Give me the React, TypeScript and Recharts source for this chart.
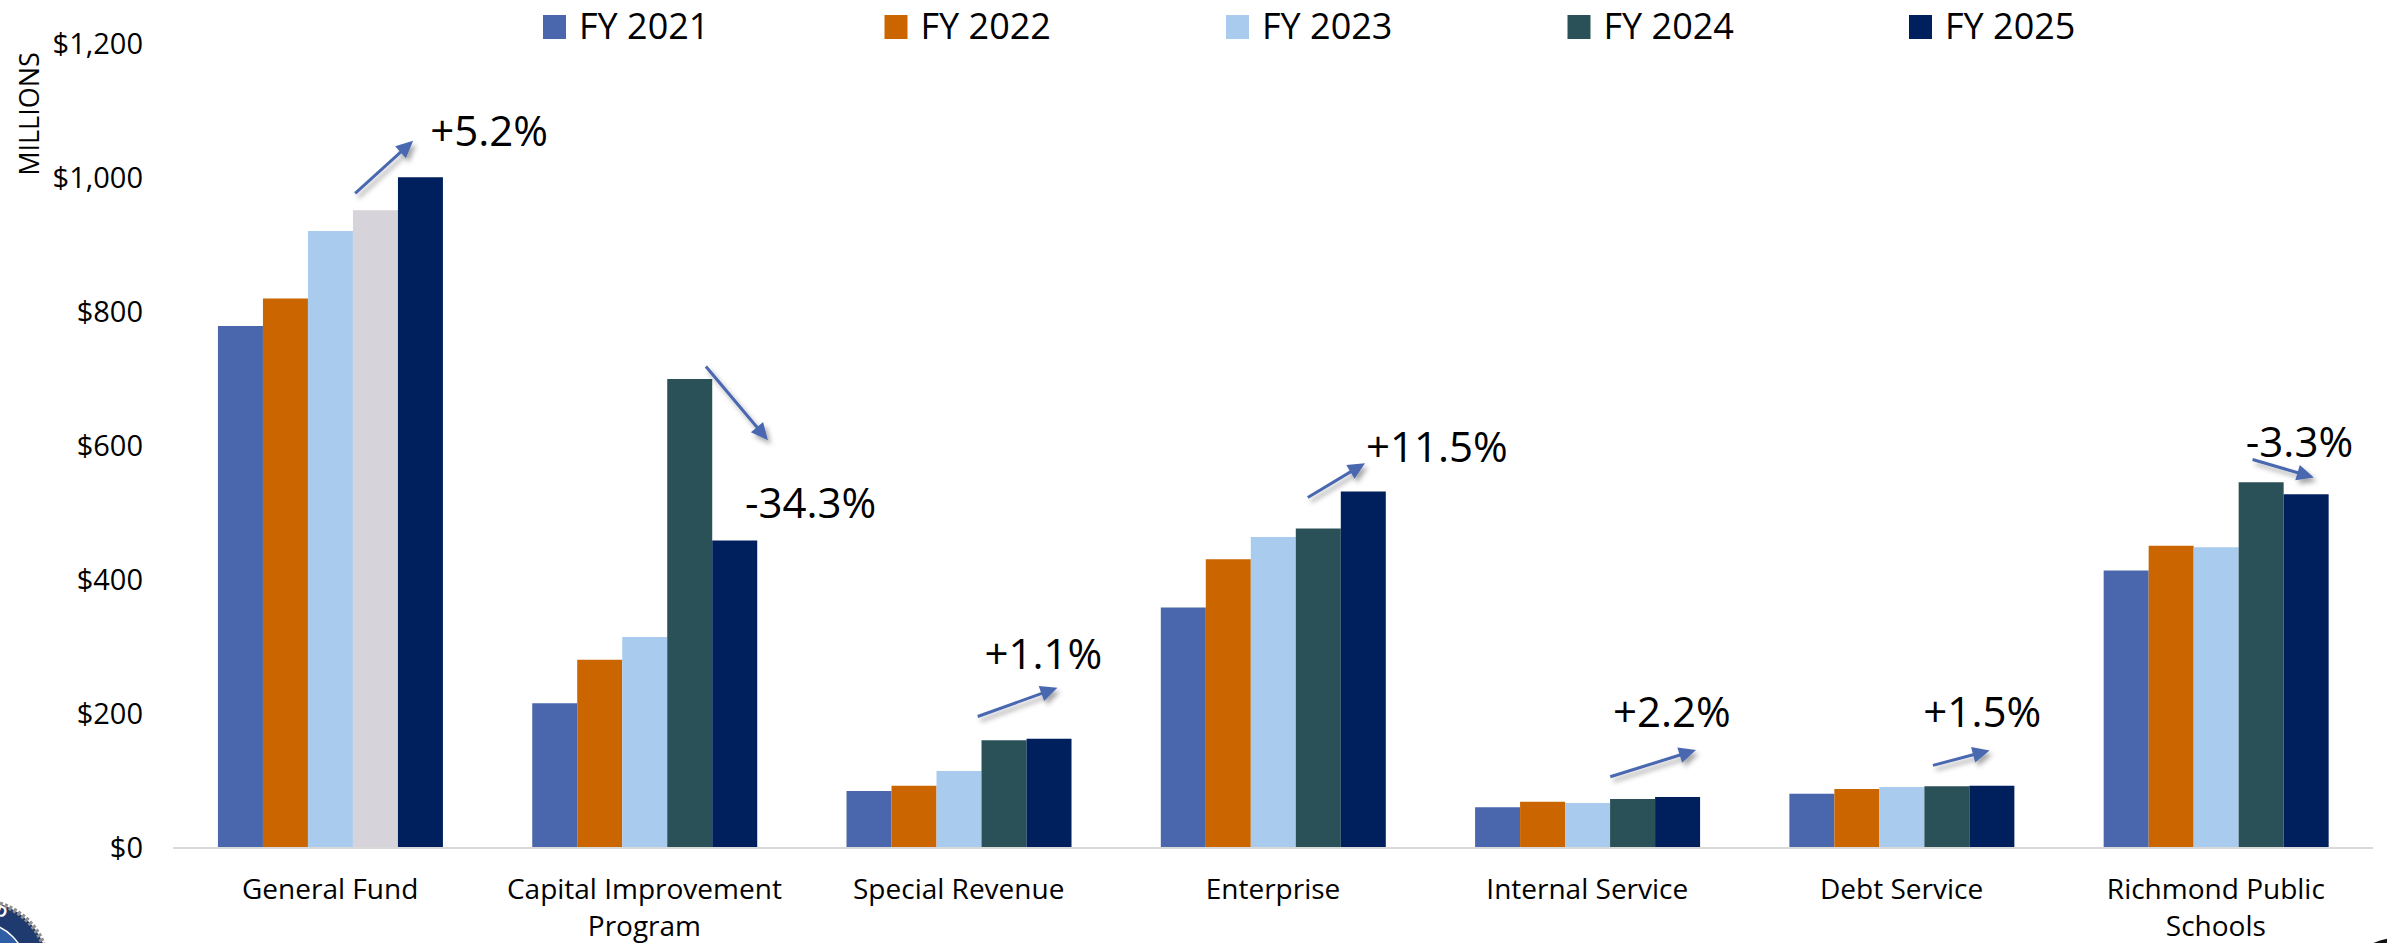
import React from 'react';
import { BarChart, Bar, XAxis, YAxis, Legend, Cell, ReferenceDot } from 'recharts';

const CATEGORIES = [
  'General Fund',
  'Capital Improvement Program',
  'Special Revenue',
  'Enterprise',
  'Internal Service',
  'Debt Service',
  'Richmond Public Schools',
];

// $ millions
const FY2021 = [779, 216, 85, 359, 61, 81, 414];
const FY2022 = [820, 281, 93, 431, 69, 88, 451];
const FY2023 = [921, 315, 115, 464, 67, 91, 449];
const FY2024 = [952, 700, 161, 477, 73, 92, 546];
const FY2025 = [1001, 459, 163, 532, 76, 93, 528];

const Y_TICKS = [0, 200, 400, 600, 800, 1000, 1200];
const CHANGE_LABELS = ['+5.2%', '-34.3%', '+1.1%', '+11.5%', '+2.2%', '+1.5%', '-3.3%'];

const SERIES = [
  { key: 'fy2021', name: 'FY 2021', values: FY2021, color: '#4A66AC' },
  { key: 'fy2022', name: 'FY 2022', values: FY2022, color: '#CA6500' },
  { key: 'fy2023', name: 'FY 2023', values: FY2023, color: '#A9CBEE' },
  { key: 'fy2024', name: 'FY 2024', values: FY2024, color: '#2B5158' },
  { key: 'fy2025', name: 'FY 2025', values: FY2025, color: '#00205D' },
];

// General Fund FY 2024 bar is drawn grey in the original
const HIGHLIGHT = { series: 'fy2024', index: 0, color: '#D7D3DA' };

// arrow + label placement, px relative to the top of each FY 2025 bar (band centre)
const ANNOTATION_OFFSETS = [
  { ax1: 25, ay1: 16, ax2: 83, ay2: -36.5, tx: 100, ty: -31.5 },
  { ax1: 61.5, ay1: -174, ax2: 123.5, ay2: -100.3, tx: 100.5, ty: -22 },
  { ax1: 19, ay1: -22.3, ax2: 98.7, ay2: -51, tx: 25.8, ty: -69.7 },
  { ax1: 34.8, ay1: 6, ax2: 92, ay2: -28.4, tx: 93, ty: -29.5 },
  { ax1: 23, ay1: -20.3, ax2: 108.7, ay2: -47, tx: 25.6, ty: -70.3 },
  { ax1: 31.4, ay1: -20.3, ax2: 88, ay2: -35.3, tx: 21.8, ty: -58.6 },
  { ax1: 36.7, ay1: -34.8, ax2: 98, ay2: -16.8, tx: 30, ty: -36.8 },
];

const data = CATEGORIES.map((name, i) => {
  const row: Record<string, string | number> = { name };
  SERIES.forEach((s) => {
    row[s.key] = s.values[i];
  });
  return row;
});

const FONT = "'Open Sans', sans-serif";
const W = 2387;
const H = 943;

function wrapLabel(text: string, max: number) {
  const words = text.split(' ');
  const lines: string[] = [];
  let cur = '';
  words.forEach((w) => {
    const next = cur ? cur + ' ' + w : w;
    if (next.length > max && cur) {
      lines.push(cur);
      cur = w;
    } else {
      cur = next;
    }
  });
  if (cur) lines.push(cur);
  return lines;
}

function CategoryTick({ x, y, payload }: any) {
  const lines = wrapLabel(String(payload.value), 19);
  return (
    <text textAnchor="middle" fontSize={28} fontFamily={FONT} fill="#000">
      {lines.map((l, i) => (
        <tspan key={i} x={x} y={y + 51 + i * 37}>
          {l}
        </tspan>
      ))}
    </text>
  );
}

function renderLegend() {
  return (
    <svg width={W} height={60} style={{ display: 'block', overflow: 'visible' }}>
      {SERIES.map((s, i) => {
        const x = 543 + i * 341.5;
        return (
          <g key={s.key}>
            <rect x={x} y={15} width={23} height={24} fill={s.color} />
            <text x={x + 36} y={39} fontSize={36} fontFamily={FONT} fill="#000">
              {s.name}
            </text>
          </g>
        );
      })}
    </svg>
  );
}

function ChangeArrow(props: any) {
  const { cx, cy, label, o, id } = props;
  const x1 = cx + o.ax1;
  const y1 = cy + o.ay1;
  const x2 = cx + o.ax2;
  const y2 = cy + o.ay2;
  const len = Math.hypot(x2 - x1, y2 - y1);
  const ux = (x2 - x1) / len;
  const uy = (y2 - y1) / len;
  const head = 17;
  const half = 8;
  const bx = x2 - ux * head;
  const by = y2 - uy * head;
  const pts = `${x2},${y2} ${bx - uy * half},${by + ux * half} ${bx + uy * half},${by - ux * half}`;
  return (
    <g>
      <defs>
        <filter id={`shadow-${id}`} x="-50%" y="-50%" width="200%" height="200%">
          <feDropShadow dx="3" dy="4" stdDeviation="2.5" floodColor="#000" floodOpacity="0.35" />
        </filter>
      </defs>
      <g filter={`url(#shadow-${id})`}>
        <line x1={x1} y1={y1} x2={bx + ux * 2} y2={by + uy * 2} stroke="#4A67B0" strokeWidth={3} />
        <polygon points={pts} fill="#4A67B0" />
      </g>
      <text x={cx + o.tx} y={cy + o.ty} fontSize={42} fontFamily={FONT} fill="#000">
        {label}
      </text>
    </g>
  );
}

function MillionsLabel() {
  return (
    <text
      x={39}
      y={114}
      transform="rotate(-90, 39, 114)"
      textAnchor="middle"
      fontSize={27}
      fontFamily={FONT}
      fill="#000"
    >
      MILLIONS
    </text>
  );
}

function Seals() {
  return (
    <svg
      width={W}
      height={H}
      style={{ position: 'absolute', left: 0, top: 0, pointerEvents: 'none' }}
    >
      <defs>
        <path id="sealArc" d="M -76 969 A 56 56 0 0 1 36 969" />
      </defs>
      <circle cx={-20} cy={969} r={68} fill="#1E3A6E" stroke="#8F8F8F" strokeWidth={5} strokeDasharray="3 2" />
      <circle cx={-20} cy={969} r={46} fill="#2F5EA5" stroke="#fff" strokeWidth={1.5} />
      <text fontSize={15} fontWeight="bold" fill="#fff" fontFamily={FONT} letterSpacing={2}>
        <textPath href="#sealArc" startOffset="8%">
          RICHMOND
        </textPath>
      </text>
      <circle cx={2396} cy={990} r={50} fill="none" stroke="#111" strokeWidth={4} />
    </svg>
  );
}

export default function App() {
  return (
    <div style={{ position: 'absolute', left: 0, top: 0, width: W, height: H, background: '#fff', overflow: 'hidden' }}>
      <BarChart
        width={W}
        height={H}
        data={data}
        margin={{ top: 44, right: 14, bottom: 0, left: 0 }}
        barCategoryGap="14.3%"
        barGap={0}
      >
        <XAxis
          dataKey="name"
          interval={0}
          height={95}
          tickLine={false}
          tickSize={0}
          tickMargin={0}
          axisLine={{ stroke: '#D9D9D9', strokeWidth: 2 }}
          tick={<CategoryTick />}
        />
        <YAxis
          width={173}
          domain={[0, 1200]}
          ticks={Y_TICKS}
          axisLine={false}
          tickLine={false}
          tickSize={0}
          tickMargin={30}
          tick={{ fontSize: 29, fontFamily: FONT, fill: '#000' }}
          tickFormatter={(v: number) => `$${v.toLocaleString('en-US')}`}
          label={{ content: () => <MillionsLabel /> }}
        />
        <Legend
          layout="horizontal"
          align="center"
          verticalAlign="middle"
          content={renderLegend}
          wrapperStyle={{ top: 0, left: 0, width: W, height: 60 }}
        />
        {SERIES.map((s) => (
          <Bar key={s.key} dataKey={s.key} name={s.name} fill={s.color} isAnimationActive={false}>
            {data.map((_, i) => (
              <Cell
                key={`${s.key}-${i}`}
                fill={s.key === HIGHLIGHT.series && i === HIGHLIGHT.index ? HIGHLIGHT.color : s.color}
              />
            ))}
          </Bar>
        ))}
        {CATEGORIES.map((c, i) => (
          <ReferenceDot
            key={`ann-${i}`}
            x={c}
            y={FY2025[i]}
            r={0}
            ifOverflow="visible"
            shape={(p: any) => (
              <ChangeArrow cx={p.cx} cy={p.cy} label={CHANGE_LABELS[i]} o={ANNOTATION_OFFSETS[i]} id={i} />
            )}
          />
        ))}
      </BarChart>
      <Seals />
    </div>
  );
}
